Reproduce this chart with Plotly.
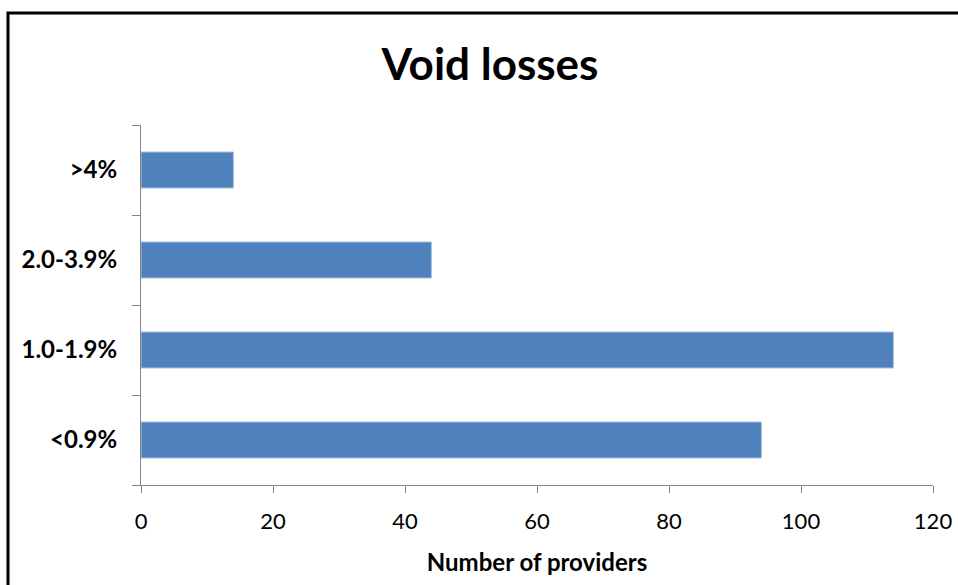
import plotly.graph_objects as go

categories = ["<0.9%", "1.0-1.9%", "2.0-3.9%", ">4%"]
providers = [94, 114, 44, 14]
x_ticks = [0, 20, 40, 60, 80, 100, 120]

W, H = 958, 585
L, R, T, B = 141, 25, 125, 100
pw, ph = W - L - R, H - T - B

def px_x(p):
    return (p - L) / pw

def px_y(p):
    return (H - B - p) / ph

fig = go.Figure(go.Bar(
    y=categories, x=providers, orientation="h",
    width=0.4,
    marker=dict(color="#4F81BD", line=dict(color="#A7BFDE", width=1)),
))

axis_color = "#868686"
fig.update_layout(
    width=W, height=H,
    margin=dict(l=L, r=R, t=T, b=B, autoexpand=False),
    paper_bgcolor="white", plot_bgcolor="white",
    showlegend=False,
    title=dict(text="<b>Void losses</b>", x=490 / W, xref="container", xanchor="center",
               y=1 - 65 / H, yref="container", yanchor="middle",
               font=dict(family="Lato", size=44, color="black")),
    xaxis=dict(range=[0, 120], tickvals=x_ticks, showgrid=False, zeroline=False,
               automargin=False,
               showline=True, linecolor=axis_color, linewidth=1,
               ticks="outside", ticklen=7, tickcolor=axis_color,
               tickfont=dict(family="Lato", size=22, color="black"),
               ticklabelstandoff=10,
               title=dict(text="<b>Number of providers</b>", standoff=20,
                          font=dict(family="Lato", size=24, color="black"))),
    yaxis=dict(categoryorder="array", categoryarray=categories,
               showgrid=False, zeroline=False, automargin=False,
               showline=True, linecolor=axis_color, linewidth=1,
               ticks="outside", ticklen=8, tickcolor=axis_color,
               tickson="boundaries",
               tickprefix="<b>", ticksuffix="</b>",
               tickfont=dict(family="Lato", size=24, color="black"),
               ticklabelstandoff=18),
)

# chart frame (decoration)
fig.add_shape(type="rect", xref="paper", yref="paper",
              x0=px_x(8), x1=px_x(W + 20), y0=px_y(H + 20), y1=px_y(13),
              line=dict(color="black", width=3), fillcolor="rgba(0,0,0,0)", layer="above")

fig.write_html("out.html")
